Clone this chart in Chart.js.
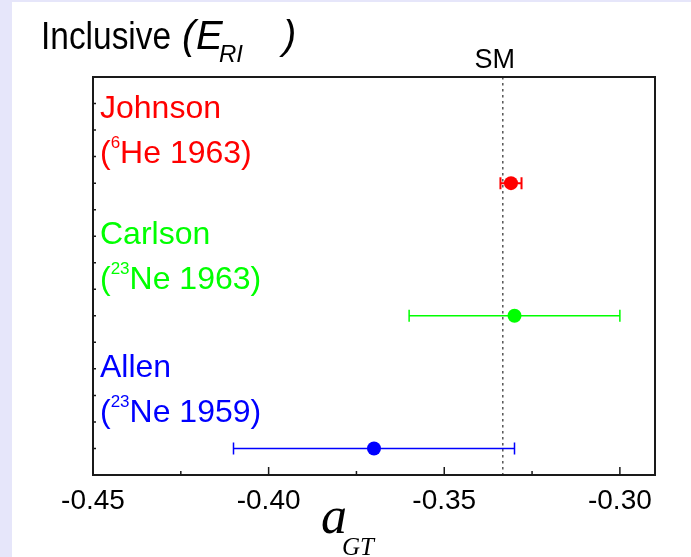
<!DOCTYPE html>
<html>
<head>
<meta charset="utf-8">
<script src="https://cdn.jsdelivr.net/npm/chart.js@4.4.1/dist/chart.umd.min.js"></script>
<style>
  html, body { margin: 0; padding: 0; background: #fff; }
</style>
</head>
<body>
<canvas id="chart" width="691" height="557"></canvas>
<script>
// data
const experiments = ['Johnson', 'Carlson', 'Allen'];
const isotopeMass = ['6', '23', '23'];
const isotopeName = ['He', 'Ne', 'Ne'];
const years = ['1963', '1963', '1959'];
const aGT = [-0.331, -0.330, -0.370];
const aGTErr = [0.003, 0.030, 0.040];
const rowLevel = [11, 6, 1];
const smValue = -1 / 3;
const xMajorTicks = [-0.45, -0.40, -0.35, -0.30];
const xMinorTicks = [-0.425, -0.375, -0.325];
const xTickLabels = ['-0.45', '-0.40', '-0.35', '-0.30'];

const colors = ['#ff0000', '#00ff00', '#0000ff'];
const labelShift = [[2.45, 0.75], [2.7, 1.0], [2.7, 1.0]];
const sans = '"Liberation Sans", Arial, sans-serif';
const serif = '"Liberation Serif", "Times New Roman", serif';

const decor = {
    id: 'decor',
    beforeDraw(chart) {
        const ctx = chart.ctx;
        ctx.save();
        ctx.fillStyle = '#ffffff';
        ctx.fillRect(0, 0, chart.width, chart.height);
        ctx.fillStyle = '#e6e6fa';
        ctx.fillRect(0, 0, 12, chart.height);
        ctx.fillRect(0, 0, chart.width, 2);
        ctx.restore();
    },
    beforeDatasetsDraw(chart) {
        const ctx = chart.ctx;
        const x = chart.scales.x, y = chart.scales.y;
        const a = chart.chartArea;
        ctx.save();
        // SM line
        ctx.strokeStyle = '#555';
        ctx.lineWidth = 1.5;
        ctx.setLineDash([2.5, 3.5]);
        const sx = x.getPixelForValue(smValue);
        ctx.beginPath();
        ctx.moveTo(sx, a.top);
        ctx.lineTo(sx, a.bottom);
        ctx.stroke();
        ctx.setLineDash([]);
        // error bars
        aGT.forEach((v, i) => {
            const py = y.getPixelForValue(rowLevel[i]);
            const x1 = x.getPixelForValue(v - aGTErr[i]);
            const x2 = x.getPixelForValue(v + aGTErr[i]);
            ctx.strokeStyle = colors[i];
            ctx.lineWidth = i === 0 ? 2 : 1.5;
            ctx.beginPath();
            ctx.moveTo(x1, py); ctx.lineTo(x2, py);
            ctx.moveTo(x1, py - 6); ctx.lineTo(x1, py + 6);
            ctx.moveTo(x2, py - 6); ctx.lineTo(x2, py + 6);
            ctx.stroke();
        });
        ctx.restore();
    },
    afterDraw(chart) {
        const ctx = chart.ctx;
        const x = chart.scales.x, y = chart.scales.y;
        const a = chart.chartArea;
        ctx.save();
        // frame
        ctx.strokeStyle = '#1a1a1a';
        ctx.lineWidth = 2;
        ctx.strokeRect(a.left, a.top, a.right - a.left, a.bottom - a.top);
        // inward ticks
        ctx.beginPath();
        x.ticks.forEach(t => {
            const px = x.getPixelForValue(t.value);
            const len = xMajorTicks.some(m => Math.abs(m - t.value) < 1e-9) ? 8 : 4;
            ctx.moveTo(px, a.bottom);
            ctx.lineTo(px, a.bottom - len);
        });
        y.ticks.forEach(t => {
            if (t.value <= y.min || t.value >= y.max) return;
            const py = y.getPixelForValue(t.value);
            ctx.moveTo(a.left, py);
            ctx.lineTo(a.left + 3, py);
        });
        ctx.lineWidth = 1.5;
        ctx.stroke();

        // title
        ctx.fillStyle = '#000';
        ctx.textBaseline = 'alphabetic';
        ctx.save();
        ctx.translate(41, 49);
        ctx.scale(0.88, 1);
        ctx.font = '38px ' + sans;
        ctx.fillText('Inclusive', 0, 0);
        ctx.restore();
        ctx.font = 'italic 40px ' + sans;
        ctx.fillText('(', 182, 49);
        ctx.fillText('E', 196, 49);
        ctx.fillText(')', 283, 49);
        ctx.font = 'italic 24px ' + sans;
        ctx.fillText('RI', 219, 62);

        // SM label
        ctx.font = '27px ' + sans;
        ctx.textAlign = 'center';
        ctx.fillText('SM', x.getPixelForValue(smValue) - 8, 68);
        ctx.textAlign = 'left';

        // experiment labels
        experiments.forEach((name, i) => {
            const lx = a.left + 7;
            const b1 = y.getPixelForValue(rowLevel[i] + labelShift[i][0]);
            const b2 = y.getPixelForValue(rowLevel[i] + labelShift[i][1]);
            ctx.fillStyle = colors[i];
            ctx.font = '32px ' + sans;
            ctx.fillText(name, lx, b1);
            let cx = lx;
            ctx.fillText('(', cx, b2);
            cx += ctx.measureText('(').width;
            ctx.font = '17px ' + sans;
            ctx.fillText(isotopeMass[i], cx, b2 - 15);
            cx += ctx.measureText(isotopeMass[i]).width;
            ctx.font = '32px ' + sans;
            ctx.fillText(isotopeName[i] + ' ' + years[i] + ')', cx, b2);
        });

        // axis title a_GT
        ctx.fillStyle = '#000';
        ctx.font = 'italic 52px ' + serif;
        ctx.fillText('a', 321, 533);
        ctx.font = 'italic 25px ' + serif;
        ctx.fillText('GT', 342, 555);
        ctx.restore();
    }
};

new Chart(document.getElementById('chart'), {
    type: 'scatter',
    data: {
        datasets: [{
            data: aGT.map((v, i) => ({ x: v, y: rowLevel[i] })),
            pointRadius: 7,
            pointHoverRadius: 7,
            pointBorderWidth: 0,
            pointBackgroundColor: colors,
            pointBorderColor: colors
        }]
    },
    options: {
        responsive: false,
        animation: false,
        events: [],
        layout: { padding: { top: 77, right: 36, left: 0, bottom: 0 } },
        plugins: { legend: { display: false }, tooltip: { enabled: false } },
        scales: {
            x: {
                type: 'linear',
                min: -0.45,
                max: -0.29,
                afterFit: s => { s.height = 82; },
                afterBuildTicks: s => {
                    s.ticks = xMajorTicks.concat(xMinorTicks).sort((p, q) => p - q).map(v => ({ value: v }));
                },
                grid: { display: false },
                border: { display: false },
                ticks: {
                    autoSkip: false,
                    maxRotation: 0,
                    padding: 1,
                    color: '#000',
                    font: { family: sans, size: 28 },
                    callback: v => {
                        const k = xMajorTicks.findIndex(m => Math.abs(m - v) < 1e-9);
                        return k >= 0 ? xTickLabels[k] : '';
                    }
                }
            },
            y: {
                min: 0,
                max: 15,
                afterFit: s => { s.width = 93; },
                grid: { display: false },
                border: { display: false },
                ticks: { stepSize: 1, display: false }
            }
        }
    },
    plugins: [decor]
});
</script>
</body>
</html>
